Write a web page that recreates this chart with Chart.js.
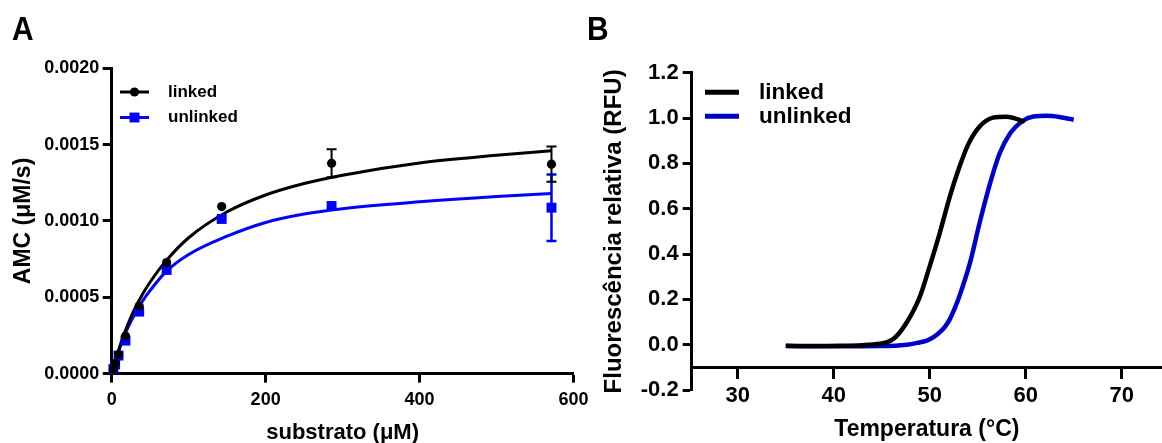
<!DOCTYPE html>
<html>
<head>
<meta charset="utf-8">
<script src="https://cdn.jsdelivr.net/npm/chart.js@4.4.1/dist/chart.umd.min.js"></script>
<style>
  html, body { margin: 0; padding: 0; background: #fff; overflow: hidden; width: 1162px; height: 443px; }
  #wrap { position: relative; width: 1162px; height: 443px; }
  canvas { position: absolute; top: 0; }
  #panelA { left: 0; }
  #panelB { left: 580px; }
  .tag { position: absolute; top: 11px; font: bold 34px "Liberation Sans", Arial, sans-serif; line-height: 34px;
         color: #000; transform: scaleX(0.88); transform-origin: left top; }
</style>
</head>
<body>
<div id="wrap">
  <canvas id="panelA" width="600" height="443"></canvas>
  <canvas id="panelB" width="582" height="443"></canvas>
  <div class="tag" style="left:12px">A</div>
  <div class="tag" style="left:587px">B</div>
</div>
<script>
// ---- Panel A: enzyme kinetics (AMC release vs substrate) ----
const substrate     = [2.2, 4.5, 8.9, 17.9, 35.7, 71.4, 142.9, 285.7, 571.4];
const linkedRate    = [0.000028, 0.000067, 0.000125, 0.000246, 0.000443, 0.000727, 0.001094, 0.001378, 0.001372];
const unlinkedRate  = [0.000030, 0.000060, 0.000118, 0.000216, 0.000406, 0.000679, 0.001013, 0.001098, 0.001087];
const linkedErr     = [0, 0, 0, 0, 0, 0, 0, 0.000092, 0.000115];
const unlinkedErr   = [0, 0, 0, 0, 0, 0, 0, 0, 0.000218];

// Michaelis-Menten fit curves, sampled along the substrate axis
const fitSubstrate  = [0, 5, 10, 15, 20, 30, 40, 50, 70, 100, 150, 200, 250, 300, 400, 500, 571.4];
const linkedFit     = [0, 0.00009, 0.00017, 0.000245, 0.00031, 0.000425, 0.00052, 0.0006, 0.000735, 0.00089, 0.00106, 0.00117, 0.001245, 0.0013, 0.00138, 0.00143, 0.00146];
const unlinkedFit   = [0, 0.000085, 0.00016, 0.00023, 0.00029, 0.00039, 0.000475, 0.000545, 0.000665, 0.00078, 0.0009, 0.00099, 0.001045, 0.00108, 0.001125, 0.00116, 0.00118];

// ---- Panel B: thermal melt curves ----
const tempLinked    = [35, 38, 40.6, 43, 44.8, 45.5, 46.2, 46.9, 47.6, 48.3, 49.0, 50.0, 51.05, 52.1, 53.0, 54.0, 55.2, 56.6, 58.0, 59.9];
const rfuLinked     = [-0.005, -0.006, -0.005, -0.002, 0.004, 0.010, 0.025, 0.055, 0.098, 0.150, 0.215, 0.347, 0.494, 0.655, 0.773, 0.883, 0.963, 1.002, 1.006, 0.985];
const tempUnlinked  = [35, 40, 44.8, 47.6, 48.7, 49.7, 50.4, 51.05, 51.6, 52.1, 52.6, 53.1, 54.2, 55.2, 56.3, 57.3, 58.4, 59.6, 60.8, 62.2, 63.5, 65.0];
const rfuUnlinked   = [-0.006, -0.007, -0.006, 0.0, 0.008, 0.018, 0.033, 0.055, 0.080, 0.113, 0.160, 0.215, 0.362, 0.538, 0.714, 0.846, 0.934, 0.985, 1.007, 1.01, 1.005, 0.993];

const BLUE_A = '#0000ff';
const BLUE_B = '#0000cc';
const FONT = '"Liberation Sans", Arial, Helvetica, sans-serif';

Chart.defaults.font.family = FONT;
Chart.defaults.font.weight = 'bold';
Chart.defaults.color = '#000';

const pts = (xs, ys) => xs.map((x, i) => ({ x: x, y: ys[i] }));

// Vertical error bars with caps, drawn beneath the markers
const errorBars = {
  id: 'errorBars',
  beforeDatasetsDraw(chart, args, opts) {
    if (!opts || !opts.sets) return;
    const { ctx, scales } = chart;
    ctx.save();
    opts.sets.forEach(set => {
      const ds = chart.data.datasets[set.dataset];
      ctx.strokeStyle = ds.borderColor;
      ctx.lineWidth = set.width;
      ds.data.forEach((p, i) => {
        const e = set.err[i];
        if (!e) return;
        const px = scales.x.getPixelForValue(p.x);
        const top = scales.y.getPixelForValue(p.y + e);
        const bot = scales.y.getPixelForValue(p.y - e);
        ctx.beginPath();
        ctx.moveTo(px, top); ctx.lineTo(px, bot);
        ctx.moveTo(px - set.cap, top); ctx.lineTo(px + set.cap, top);
        ctx.moveTo(px - set.cap, bot); ctx.lineTo(px + set.cap, bot);
        ctx.stroke();
      });
    });
    ctx.restore();
  }
};

// Series key drawn inside the plot area: line sample, optional marker, label
const seriesKey = {
  id: 'seriesKey',
  afterDraw(chart, args, opts) {
    if (!opts || !opts.entries) return;
    const ctx = chart.ctx;
    ctx.save();
    opts.entries.forEach((entry, i) => {
      const line = chart.data.datasets[entry.line];
      const y = opts.y0 + i * opts.dy;
      ctx.strokeStyle = line.borderColor;
      ctx.lineWidth = opts.lineWidth;
      ctx.beginPath();
      ctx.moveTo(opts.x0, y);
      ctx.lineTo(opts.x1, y);
      ctx.stroke();
      if (entry.marker !== undefined) {
        const m = chart.data.datasets[entry.marker];
        ctx.fillStyle = m.backgroundColor;
        ctx.strokeStyle = m.backgroundColor;
        Chart.helpers.drawPoint(ctx, { pointStyle: m.pointStyle, radius: m.pointRadius, rotation: 0, borderWidth: 0 },
          (opts.x0 + opts.x1) / 2, y);
      }
      ctx.fillStyle = '#000';
      ctx.font = opts.font;
      ctx.textAlign = 'left';
      ctx.textBaseline = 'middle';
      ctx.fillText(entry.text, opts.tx, y);
    });
    ctx.restore();
  }
};

function axisStyle(tickLength) {
  return {
    grid: { display: true, drawOnChartArea: false, drawTicks: true, tickLength: tickLength, tickWidth: 3, tickColor: '#000' },
    border: { display: true, color: '#000', width: 3 }
  };
}

// Fixed-decimal tick text without a signed zero
const fixedTick = digits => v => (Math.abs(v) < 1e-9 ? 0 : v).toFixed(digits);

new Chart(document.getElementById('panelA'), {
  type: 'scatter',
  data: {
    datasets: [
      { label: 'linked', data: pts(substrate, linkedRate), pointStyle: 'circle', pointRadius: 4.6,
        backgroundColor: '#000', borderColor: '#000', borderWidth: 0, order: 0, clip: false },
      { label: 'unlinked', data: pts(substrate, unlinkedRate), pointStyle: 'rect', pointRadius: 7,
        backgroundColor: BLUE_A, borderColor: BLUE_A, borderWidth: 0, order: 1, clip: false },
      { label: 'linked fit', data: pts(fitSubstrate, linkedFit), showLine: true, pointRadius: 0,
        borderColor: '#000', borderWidth: 3, cubicInterpolationMode: 'monotone', order: 2, clip: false },
      { label: 'unlinked fit', data: pts(fitSubstrate, unlinkedFit), showLine: true, pointRadius: 0,
        borderColor: BLUE_A, borderWidth: 3, cubicInterpolationMode: 'monotone', order: 3, clip: false }
    ]
  },
  plugins: [errorBars, seriesKey],
  options: {
    responsive: false,
    devicePixelRatio: 1,
    animation: false,
    events: [],
    layout: { padding: { left: 0, top: 68.3, right: 26.5, bottom: 0 } },
    plugins: {
      legend: { display: false },
      tooltip: { enabled: false },
      errorBars: { sets: [
        { dataset: 1, err: unlinkedErr, width: 2.5, cap: 5 },
        { dataset: 0, err: linkedErr, width: 2, cap: 5 }
      ] },
      seriesKey: {
        entries: [ { line: 2, marker: 0, text: 'linked' }, { line: 3, marker: 1, text: 'unlinked' } ],
        x0: 120, x1: 149, y0: 92, dy: 25.5, tx: 168, lineWidth: 3, font: 'bold 17px ' + FONT
      }
    },
    scales: {
      x: Object.assign({
        type: 'linear', position: 'bottom', min: 0, max: 600,
        ticks: { stepSize: 200, padding: 6.6, maxRotation: 0, font: { size: 18, weight: 'bold' }, color: '#000' },
        title: { display: true, text: 'substrato (μM)', color: '#000', padding: 0,
                 font: { size: 22, weight: 'bold', lineHeight: 0.9 } },
        afterFit: s => { s.height = 69.4; }
      }, axisStyle(9)),
      y: Object.assign({
        type: 'linear', position: 'left', min: 0, max: 0.002,
        ticks: { stepSize: 0.0005, padding: 3.5, font: { size: 18, weight: 'bold' }, color: '#000',
                 callback: fixedTick(4) },
        title: { display: true, text: 'AMC (μM/s)', color: '#000', padding: { top: 10, bottom: 0 },
                 font: { size: 23, weight: 'bold' } },
        afterFit: s => { s.width = 111.7; }
      }, axisStyle(9))
    }
  }
});

new Chart(document.getElementById('panelB'), {
  type: 'scatter',
  data: {
    datasets: [
      { label: 'linked', data: pts(tempLinked, rfuLinked), showLine: true, pointRadius: 0,
        borderColor: '#000', borderWidth: 4.5, cubicInterpolationMode: 'monotone', order: 0 },
      { label: 'unlinked', data: pts(tempUnlinked, rfuUnlinked), showLine: true, pointRadius: 0,
        borderColor: BLUE_B, borderWidth: 4.5, cubicInterpolationMode: 'monotone', order: 1 }
    ]
  },
  plugins: [seriesKey],
  options: {
    responsive: false,
    devicePixelRatio: 1,
    animation: false,
    events: [],
    layout: { padding: { left: 0, top: 72.8, right: 0, bottom: 53 } },
    plugins: {
      legend: { display: false },
      tooltip: { enabled: false },
      seriesKey: {
        entries: [ { line: 0, text: 'linked' }, { line: 1, text: 'unlinked' } ],
        x0: 125, x1: 159, y0: 92.3, dy: 24, tx: 179, lineWidth: 5, font: 'bold 22.5px ' + FONT
      }
    },
    scales: {
      x: Object.assign({
        type: 'linear', position: { y: -0.1 }, min: 25.2, max: 74.2,
        ticks: { stepSize: 10, includeBounds: false, padding: 5.5, maxRotation: 0,
                 font: { size: 22, weight: 'bold' }, color: '#000' },
        title: { display: true, text: 'Temperatura (°C)', color: '#000', padding: 0,
                 font: { size: 23, weight: 'bold' } },
        afterFit: s => { s.height = 76.5; }
      }, axisStyle(10)),
      y: Object.assign({
        type: 'linear', position: 'left', min: -0.2, max: 1.2,
        ticks: { stepSize: 0.2, padding: 4, font: { size: 22, weight: 'bold' }, color: '#000',
                 callback: fixedTick(1) },
        title: { display: true, text: 'Fluorescência relativa (RFU)', color: '#000', padding: { top: 20, bottom: 0 },
                 font: { size: 24, weight: 'bold' } },
        afterFit: s => { s.width = 111.7; }
      }, axisStyle(9))
    }
  }
});
</script>
</body>
</html>
